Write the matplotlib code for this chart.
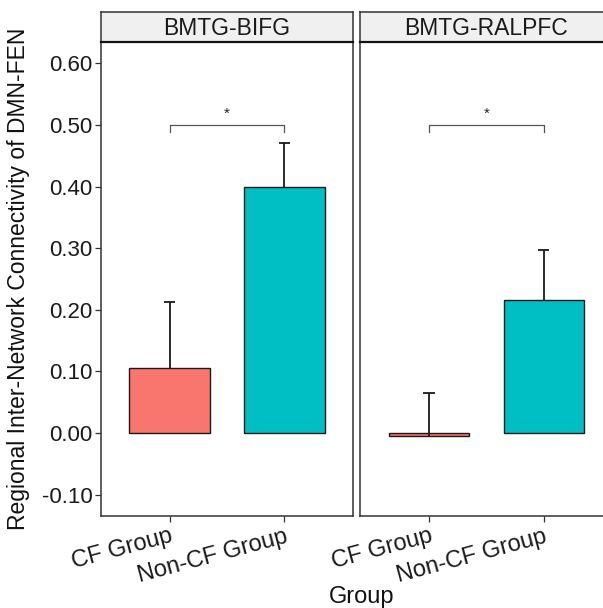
import matplotlib
matplotlib.use("Agg")
import matplotlib.pyplot as plt

plt.rcParams['font.family'] = ['Liberation Sans', 'DejaVu Sans']

facets = ["BMTG-BIFG", "BMTG-RALPFC"]
groups = ["CF Group", "Non-CF Group"]
means = {"BMTG-BIFG": [0.105, 0.400], "BMTG-RALPFC": [-0.005, 0.216]}
errs = {"BMTG-BIFG": [0.107, 0.071], "BMTG-RALPFC": [0.070, 0.081]}
colors = ["#F8766D", "#00BFC4"]
yticks = [-0.10, 0.00, 0.10, 0.20, 0.30, 0.40, 0.50, 0.60]
sig_y = 0.50
sig_label = "*"

W, H = 603, 608
fig = plt.figure(figsize=(W / 100, H / 100), dpi=100)

panel_w = 252.6 / W
lefts = [100.7 / W, 360.0 / W]
bottom = (H - 515.7) / H
height = (515.7 - 42.3) / H
strip_b = (H - 42.3) / H
strip_h = 30.6 / H

xpos = [1, 2]
border = "#333333"

for i, facet in enumerate(facets):
    ax = fig.add_axes([lefts[i], bottom, panel_w, height])
    ax.bar(xpos, means[facet], width=0.7, color=colors, edgecolor="#1a1a1a",
           linewidth=1.0, zorder=2)
    tops = [m + e for m, e in zip(means[facet], errs[facet])]
    ax.vlines(xpos, means[facet], tops, color="#1a1a1a", linewidth=1.3, zorder=3)
    ax.hlines(tops, [x - 0.05 for x in xpos], [x + 0.05 for x in xpos],
              color="#1a1a1a", linewidth=1.3, zorder=3)
    # significance bracket
    ax.plot([1, 1, 2, 2], [sig_y - 0.011, sig_y, sig_y, sig_y - 0.011],
            color="#555555", linewidth=0.9, zorder=3)
    ax.text(1.5, sig_y + 0.006, sig_label, ha="center", va="bottom",
            fontsize=11, color="#222222")

    ax.set_xlim(0.4, 2.6)
    ax.set_ylim(-0.134, 0.634)
    ax.set_xticks(xpos)
    ax.set_xticklabels(groups, rotation=15, ha="right", va="top",
                       rotation_mode="anchor", fontsize=17, color="#1a1a1a")
    ax.tick_params(axis="x", length=4, width=0.9, color=border, pad=3)
    if i == 0:
        ax.set_yticks(yticks)
        ax.set_yticklabels([f"{v:.2f}" for v in yticks], fontsize=16,
                           color="#1a1a1a")
        ax.tick_params(axis="y", length=4, width=0.9, color=border, pad=2)
    else:
        ax.set_yticks([])
    for s in ax.spines.values():
        s.set_color(border)
        s.set_linewidth(1.1)

    sax = fig.add_axes([lefts[i], strip_b, panel_w, strip_h])
    sax.set_facecolor("#F0F0F0")
    sax.set_xticks([])
    sax.set_yticks([])
    for s in sax.spines.values():
        s.set_color(border)
        s.set_linewidth(1.1)
    sax.spines["bottom"].set_color("#111111")
    sax.spines["bottom"].set_linewidth(1.6)
    sax.text(0.5, 0.45, facet, transform=sax.transAxes, ha="center",
             va="center", fontsize=16.5, color="#1a1a1a")

fig.text(19 / W, bottom + height / 2, "Regional Inter-Network Connectivity of DMN-FEN",
         rotation=90, ha="center", va="center", fontsize=16.5, color="#111111")
fig.text(362 / W, 1 - 597 / H, "Group", ha="center", va="center",
         fontsize=17, color="#111111")

fig.savefig("out.png", dpi=100)
